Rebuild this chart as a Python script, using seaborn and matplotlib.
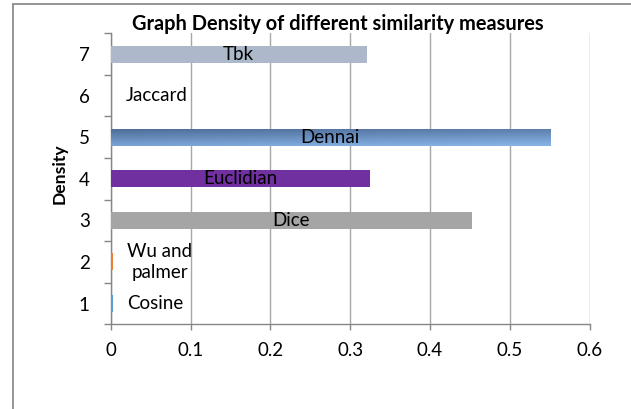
import matplotlib
matplotlib.use("Agg")
import matplotlib.pyplot as plt
from matplotlib.lines import Line2D
from matplotlib.colors import to_rgb
import numpy as np
import pandas as pd
import seaborn as sns

# --- data -------------------------------------------------------------
positions = ["1", "2", "3", "4", "5", "6", "7"]
measures = ["Cosine", "Wu and\npalmer", "Dice", "Euclidian", "Dennai", "Jaccard", "Tbk"]
density = [0.003, 0.003, 0.452, 0.325, 0.550, 0.001, 0.321]
bar_colors = ["#5B9BD5", "#ED7D31", "#A5A5A5", "#7030A0", "#6A93C8", "#FFC000", "#ADB9CA"]
x_ticks = [0, 0.1, 0.2, 0.3, 0.4, 0.5, 0.6]
x_tick_labels = ["0", "0.1", "0.2", "0.3", "0.4", "0.5", "0.6"]
title = "Graph Density of different similarity measures"
y_label = "Density"

# --- style ------------------------------------------------------------
sns.set_theme(style="white")
plt.rcParams["font.family"] = ["Lato", "DejaVu Sans"]
AXIS_GRAY = "#868686"
GRID_GRAY = "#A8A8A8"
LABEL_SIZE = 13.5

df = pd.DataFrame({"position": positions, "measure": measures, "density": density})
order = positions[::-1]

fig = plt.figure(figsize=(6.31, 4.09), dpi=100)
ax = fig.add_axes([0.1754, 0.2071, 0.7591, 0.7115])

sns.barplot(
    data=df, x="density", y="position", hue="measure",
    order=order, hue_order=measures,
    palette=dict(zip(measures, bar_colors)),
    width=0.41, dodge=False, saturation=1, legend=False, ax=ax,
)
# bars sit on top of the value axis line
for patch in ax.patches:
    patch.set_zorder(3)
    patch.set_linewidth(0)

# Gradient fill for the Dennai bar (dark at top, lighter below)
dennai_idx = measures.index("Dennai")
dennai_bar = ax.containers[dennai_idx][0]
bb = dennai_bar.get_bbox()
top_c = np.array(to_rgb("#4C6A94"))
bot_c = np.array(to_rgb("#86B2E6"))
ny, nx = 64, 128
ty = np.linspace(0, 1, ny)[:, None, None]
tx = np.linspace(0, 1, nx)[None, :, None]
grad = top_c + (bot_c - top_c) * np.clip(0.8 * ty + 0.25 * tx, 0, 1)
img = ax.imshow(
    grad, extent=(bb.x0, bb.x1, bb.y0, bb.y1), origin="lower",
    aspect="auto", interpolation="bilinear", zorder=3.1,
)
img.set_clip_path(dennai_bar)

# Measure names on the bars
for i, (name, val) in enumerate(zip(measures, density)):
    bar = ax.containers[i][0]
    yc = bar.get_y() + bar.get_height() / 2
    if val > 0.05:
        ax.text(val / 2, yc, name, ha="center", va="center",
                fontsize=LABEL_SIZE, color="black", zorder=5)
    else:
        ax.annotate(name, xy=(val, yc), xytext=(10, 0), textcoords="offset points",
                    ha="left", va="center", multialignment="center",
                    fontsize=LABEL_SIZE, color="black", zorder=5,
                    linespacing=1.25)

# --- axes -------------------------------------------------------------
ax.set_xlim(0, 0.6)
ax.set_ylim(6.5, -0.5)
ax.set_xticks(x_ticks)
ax.set_xticklabels(x_tick_labels)
ax.set_yticks(np.arange(-0.5, 7, 1), minor=True)
ax.set_xlabel("")
ax.set_ylabel("")

ax.xaxis.grid(True, color=GRID_GRAY, lw=1.0)
ax.yaxis.grid(False)
ax.set_axisbelow(True)

for side in ("top", "right"):
    ax.spines[side].set_visible(False)
for side in ("left", "bottom"):
    ax.spines[side].set_color(AXIS_GRAY)
    ax.spines[side].set_linewidth(1.0)

ax.tick_params(axis="y", which="major", length=0, pad=15,
               labelsize=LABEL_SIZE, labelcolor="black")
ax.tick_params(axis="y", which="minor", left=True, length=4.8, width=1.0,
               color=AXIS_GRAY)
ax.tick_params(axis="x", which="major", bottom=True, length=4.5, width=1.0,
               color=AXIS_GRAY, pad=8, labelsize=LABEL_SIZE, labelcolor="black")

# --- titles -----------------------------------------------------------
fig.text(338 / 631, 1 - 24 / 409, title, ha="center", va="center",
         fontsize=14.4, fontweight="bold", color="black")
fig.text(59.3 / 631, 1 - 174 / 409, y_label, ha="center", va="center",
         rotation=90, fontsize=12.6, fontweight="bold", color="black")

# Chart-area frame
fx, fy = 12.7 / 631, 1 - 4 / 409
frame_kw = dict(transform=fig.transFigure, color="#8C8C8C", lw=1.3)
fig.add_artist(Line2D([fx, fx], [0, fy], **frame_kw))
fig.add_artist(Line2D([fx, 1], [fy, fy], **frame_kw))

fig.savefig("out.png", dpi=100)
